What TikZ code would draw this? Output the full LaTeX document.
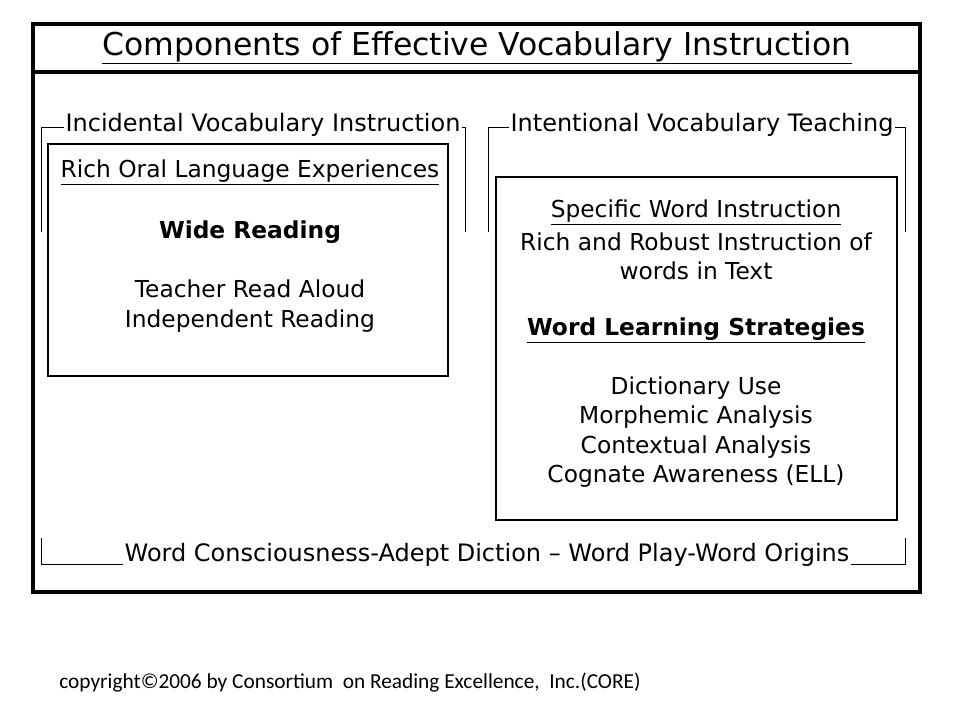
\documentclass[tikz,border=0pt]{standalone}
\usepackage{fontspec}
\setmainfont{DejaVu Sans}
\newfontfamily\copyfont{Carlito}
\usetikzlibrary{positioning}

\begin{document}
\begin{tikzpicture}[x=0.75pt,y=-0.75pt]
    \tikzstyle{frame}=[draw=black,line width=2.4pt]
    \tikzstyle{box}=[draw=black,line width=2.1pt]
    \tikzstyle{bracket}=[draw=black,line width=0.7pt]
    \tikzstyle{txt}=[inner sep=1pt,align=center,font=\fontsize{17.5}{22}\selectfont]
    \tikzstyle{side}=[inner sep=1pt,font=\fontsize{18}{22}\selectfont]
    \tikzstyle{strong}=[inner sep=1pt,align=center,font=\fontsize{17.5}{22}\selectfont\bfseries]
    \tikzstyle{head}=[inner sep=1pt,font=\fontsize{23.6}{28}\selectfont]

    \def\L{250}
    \def\R{696}

    \useasboundingbox (0,0) rectangle (960,720);

    \draw[frame] (33,24) rectangle (920,592);
    \draw[frame] (33,72) -- (920,72);
    \draw[box] (48,144) rectangle (448,376);
    \draw[box] (496,177) rectangle (897,520);

    \node[head] (title) at (477,48) {\underline{Components of Effective Vocabulary Instruction}};

    \node[side] (inc) at (263,125) {Incidental Vocabulary Instruction};
    \node[side] (int) at (702,125) {Intentional Vocabulary Teaching};
    \node[side] (wc)  at (487,555) {Word Consciousness-Adept Diction -- Word Play-Word Origins};

    \coordinate (incL) at (41,232);
    \coordinate (incR) at (465,232);
    \coordinate (intL) at (488,232);
    \coordinate (intR) at (905,232);
    \coordinate (wcL) at (41,538);
    \coordinate (wcR) at (905,538);

    \path[bracket] ([yshift=-2pt]inc.west) -| (incL);
    \path[bracket] ([yshift=-2pt]inc.east) -| (incR);
    \path[bracket] ([yshift=-2pt]int.west) -| (intL);
    \path[bracket] ([yshift=-2pt]int.east) -| (intR);
    \path[bracket] ([yshift=-7pt]wc.west) -| (wcL);
    \path[bracket] ([yshift=-7pt]wc.east) -| (wcR);

    \node[txt] (oral)  at (\L,172) {\underline{Rich Oral Language Experiences}};
    \node[strong] (wide) at (\L,232) {Wide Reading};
    \node[txt] (aloud) at (\L,306) {Teacher Read Aloud\\Independent Reading};

    \node[txt] (spec)  at (\R,212) {\underline{Specific Word Instruction}};
    \node[txt] (rich)  at (\R,256) {Rich and Robust Instruction of\\words in Text};
    \node[strong] (strat) at (\R,330) {\underline{Word Learning Strategies}};
    \node[txt] (uses)  at (\R,432) {Dictionary Use\\Morphemic Analysis\\Contextual Analysis\\Cognate Awareness (ELL)};

    \node[inner sep=1pt,font=\copyfont\fontsize{16}{19}\selectfont] (copy) at (350,683) {copyright\textcopyright2006 by Consortium\ \ on Reading Excellence,\ \ Inc.(CORE)};
\end{tikzpicture}
\end{document}
